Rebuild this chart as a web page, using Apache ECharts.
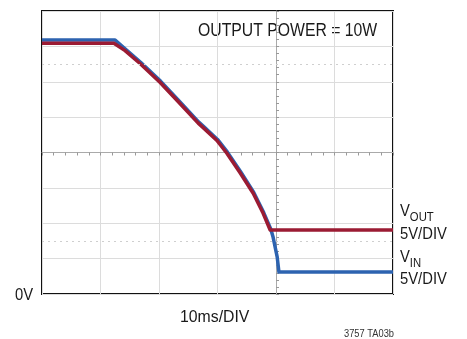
<!DOCTYPE html>
<html><head><meta charset="utf-8">
<script src="https://cdn.jsdelivr.net/npm/echarts@6/dist/echarts.min.js"></script>
<style>html,body{margin:0;padding:0;background:#fff}#c{width:467px;height:339px}</style>
</head><body><div id="c"></div>
<script>
// time in scope divisions (x), amplitude in scope divisions (y, 0 = 0V at bottom)
const voutTime = [0, 1.23, 1.42, 1.68, 2.02, 2.31, 2.67, 2.75, 2.99, 3.16, 3.38, 3.61, 3.78, 3.90, 6.0];
const voutDiv  = [7.09, 7.09, 6.88, 6.51, 5.98, 5.47, 4.83, 4.71, 4.34, 3.98, 3.44, 2.85, 2.28, 1.81, 1.81];
const vinTime  = [0, 1.25, 1.43, 1.69, 2.03, 2.32, 2.68, 2.76, 3.00, 3.17, 3.39, 3.62, 3.79, 3.91, 3.95, 4.02, 4.05, 6.0];
const vinDiv   = [7.18, 7.18, 6.92, 6.54, 6.01, 5.50, 4.86, 4.74, 4.37, 4.01, 3.47, 2.87, 2.30, 1.84, 1.61, 1.05, 0.62, 0.62];
const xDivs = 6, yDivs = 8;
const dottedLevels = [6.5, 1.5];

const FONT = '"Liberation Sans",Arial,sans-serif';
const zip = (a, b) => a.map((v, i) => [v, b[i]]);

function label(x, y, text, size, sx, fill) {
  return {type: 'text', x: x, y: y, scaleX: sx, style: {text: text, font: size + 'px ' + FONT, fill: fill || '#1a1a1a', textAlign: 'left', textVerticalAlign: 'top'}};
}
function subLabel(x, y, main, sub, sx) {
  return {type: 'text', x: x, y: y, scaleX: sx, style: {
    text: '{v|' + main + '}{s|' + sub + '}', textAlign: 'left', textVerticalAlign: 'top',
    rich: {v: {font: '17px ' + FONT, fill: '#1a1a1a', verticalAlign: 'bottom', lineHeight: 20},
           s: {font: '13px ' + FONT, fill: '#1a1a1a', verticalAlign: 'bottom', lineHeight: 20, padding: [0, 0, -4, 0]}}}};
}

const chart = echarts.init(document.getElementById('c'), null, {renderer: 'canvas'});
chart.setOption({
  animation: false,
  backgroundColor: '#fff',
  grid: {left: 42, right: 74, top: 11, bottom: 45, show: true, borderColor: '#111', borderWidth: 2, backgroundColor: 'transparent'},
  xAxis: [
    {type: 'value', min: 0, max: xDivs, interval: 1, axisLine: {show: false}, axisTick: {show: false}, axisLabel: {show: false},
     splitLine: {show: true, lineStyle: {color: '#dcdcdc', width: 1}}},
    {type: 'value', min: 0, max: xDivs, interval: 1, axisLabel: {show: false}, splitLine: {show: false},
     axisLine: {show: true, onZero: true, onZeroAxisIndex: 1, lineStyle: {color: '#aaa', width: 1}},
     axisTick: {show: true, inside: true, length: 3, lineStyle: {color: '#999'}},
     minorTick: {show: true, splitNumber: 5, length: 3, lineStyle: {color: '#999'}}},
    {type: 'value', min: -4, max: 2, interval: 1, show: false}
  ],
  yAxis: [
    {type: 'value', min: 0, max: yDivs, interval: 1, axisLine: {show: false}, axisTick: {show: false}, axisLabel: {show: false},
     splitLine: {show: true, lineStyle: {color: '#dcdcdc', width: 1}}},
    {type: 'value', min: -4, max: 4, interval: 1, show: false, position: 'left'},
    {type: 'value', min: 0, max: yDivs, interval: 1, axisLabel: {show: false}, splitLine: {show: false}, position: 'left',
     axisLine: {show: true, onZero: true, onZeroAxisIndex: 2, lineStyle: {color: '#aaa', width: 1}},
     axisTick: {show: true, inside: true, length: 3, lineStyle: {color: '#999'}},
     minorTick: {show: true, splitNumber: 5, length: 3, lineStyle: {color: '#999'}}}
  ],
  series: [
    {type: 'line', xAxisIndex: 0, yAxisIndex: 0, data: [], symbol: 'none', silent: true,
     markLine: {silent: true, symbol: 'none', label: {show: false},
       lineStyle: {color: '#cfcfcf', type: [2, 4], width: 1},
       data: dottedLevels.map(v => ({yAxis: v}))}},
    {name: 'VIN', type: 'line', xAxisIndex: 0, yAxisIndex: 0, data: zip(vinTime, vinDiv), symbol: 'none',
     lineStyle: {color: '#2d63b0', width: 3.5, join: 'round'}, z: 3},
    {name: 'VOUT', type: 'line', xAxisIndex: 0, yAxisIndex: 0, data: zip(voutTime, voutDiv), symbol: 'none',
     lineStyle: {color: '#9b1b33', width: 3.5, join: 'round'}, z: 4}
  ],
  graphic: [
    label(198, 21, 'OUTPUT POWER = 10W', 19, 0.83),
    subLabel(400, 200, 'V', 'OUT', 0.87),
    label(400, 226, '5V/DIV', 17, 0.87),
    subLabel(400, 246, 'V', 'IN', 0.87),
    label(400, 271, '5V/DIV', 17, 0.87),
    label(15, 287, '0V', 17, 0.87),
    label(180, 309, '10ms/DIV', 17, 0.93),
    label(344, 329, '3757 TA03b', 10, 0.93, '#333')
  ]
});
</script></body></html>
